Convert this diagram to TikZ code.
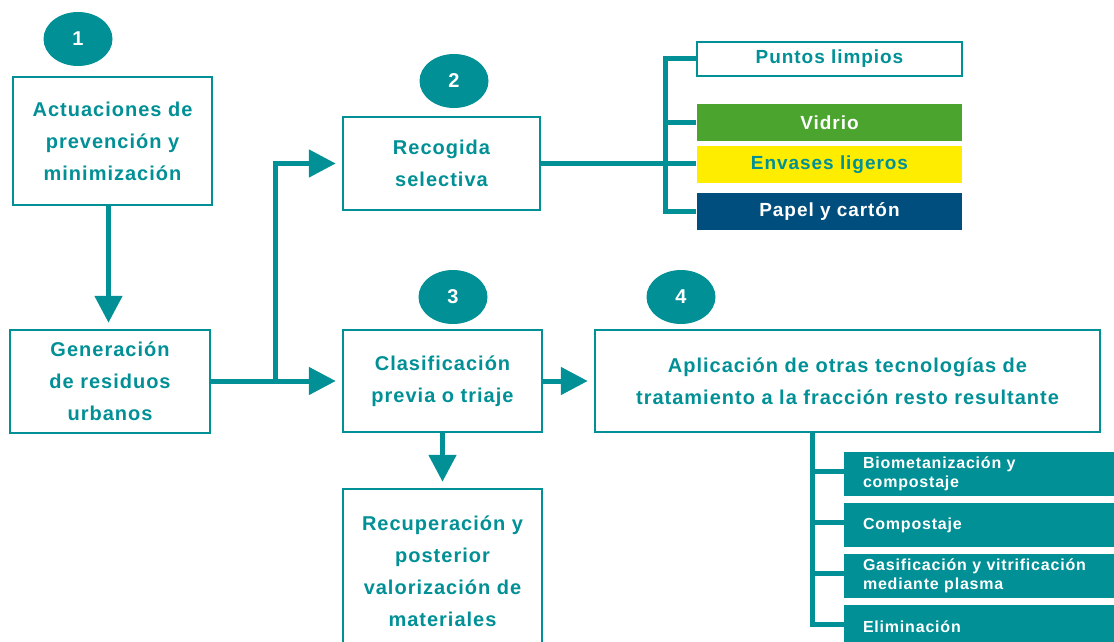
\documentclass[tikz,border=0pt]{standalone}
\usepackage{fontspec}
\setmainfont{Liberation Sans}[LetterSpace=5]
\usetikzlibrary{arrows.meta,shapes.geometric}
\definecolor{tealc}{RGB}{0,144,150}
\definecolor{greenc}{RGB}{74,164,46}
\definecolor{yellowc}{RGB}{255,237,0}
\definecolor{navyc}{RGB}{0,78,125}
\begin{document}
\begin{tikzpicture}[x=1pt,y=-1pt,
  box/.style={draw=tealc, line width=2.5pt, fill=white, text=tealc, align=center,
    font=\fontsize{20}{32}\selectfont\bfseries, inner sep=0pt},
  cbox/.style={line width=2.5pt, align=center, minimum width=265pt,
    font=\fontsize{19}{22}\selectfont\bfseries, inner sep=0pt},
  tbox/.style={fill=tealc, text=white, align=left, text width=236pt, inner xsep=19pt,
    inner ysep=0pt, minimum height=44pt, font=\fontsize{16}{19}\selectfont\bfseries},
  ln/.style={draw=tealc, line width=5pt},
  arr/.style={ln, -{Triangle[length=27pt,width=27pt]}, shorten >=6pt},
  num/.style={ellipse, fill=tealc, text=white, minimum width=69pt, minimum height=54pt,
    font=\fontsize{20}{24}\selectfont\bfseries, inner sep=0pt}]
\useasboundingbox (0,0) rectangle (1114,642);
\clip (0,0) rectangle (1114,642);

% numbers
\node[num] (n1) at (78,39) {1};
\node[num] (n2) at (454,81) {2};
\node[num] (n3) at (453,297) {3};
\node[num] (n4) at (681,297) {4};

% main boxes
\node[box, minimum width=199pt, minimum height=128pt] (act) at (112.5,141)
  {Actuaciones de\\prevención y\\minimización};
\node[box, minimum width=200pt, minimum height=103pt] (gen) at (110,381.5)
  {Generación\\de residuos\\urbanos};
\node[box, minimum width=197pt, minimum height=93pt] (rec) at (441.5,163.5)
  {Recogida\\selectiva};
\node[box, minimum width=199pt, minimum height=102pt] (cla) at (442.5,381)
  {Clasificación\\previa o triaje};
\node[box, minimum width=505pt, minimum height=102pt] (apl) at (847.5,381)
  {Aplicación de otras tecnologías de\\tratamiento a la fracción resto resultante};
\node[box, minimum width=199pt, minimum height=165pt] (recu) at (442.5,571.5)
  {Recuperación y\\posterior\\valorización de\\materiales};

% selective boxes
\node[cbox, draw=tealc, fill=white, text=tealc, minimum height=34pt] (pl) at (829.5,59) {Puntos limpios};
\node[cbox, fill=greenc, text=white, minimum height=37pt] (vid) at (829.5,122.5) {Vidrio};
\node[cbox, fill=yellowc, text=tealc, minimum height=37pt] (env) at (829.5,164.5) {Envases ligeros};
\node[cbox, fill=navyc, text=white, minimum height=37pt] (pap) at (829.5,211.5) {Papel y cartón};

% treatment boxes
\node[tbox] (t1) at (981,474) {Biometanización y\\compostaje};
\node[tbox] (t2) at (981,525) {Compostaje};
\node[tbox] (t3) at (981,576) {Gasificación y vitrificación\\mediante plasma};
\node[tbox] (t4) at (981,627) {Eliminación};

% connectors
\draw[arr] ([xshift=-4pt]act.south) -- ([xshift=-4pt]act.south |- gen.north);
\coordinate (j) at (275,0);
\draw[arr] (gen.east |- cla.west) -- (cla.west);
\draw[arr] (j |- cla.west) |- (rec.west);
\draw[arr] (cla.east) -- (apl.west);
\draw[arr] (cla.south) -- (recu.north);

\coordinate (bk) at (665,0);
\draw[ln] (rec.east) -- (rec.east -| env.west);
\draw[ln] (pl.west) -| (bk |- pap.west) -- (pap.west);
\draw[ln] (bk |- vid.west) -- (vid.west);

\coordinate (vk) at (812,0);
\draw[ln] (vk |- apl.south) |- ([yshift=3pt]t4.west);
\draw[ln] (vk |- t1.west) ++(0,-3) -- ([yshift=3pt]t1.west);
\draw[ln] (vk |- t2.west) ++(0,-3) -- ([yshift=3pt]t2.west);
\draw[ln] (vk |- t3.west) ++(0,-3) -- ([yshift=3pt]t3.west);
\end{tikzpicture}
\end{document}
